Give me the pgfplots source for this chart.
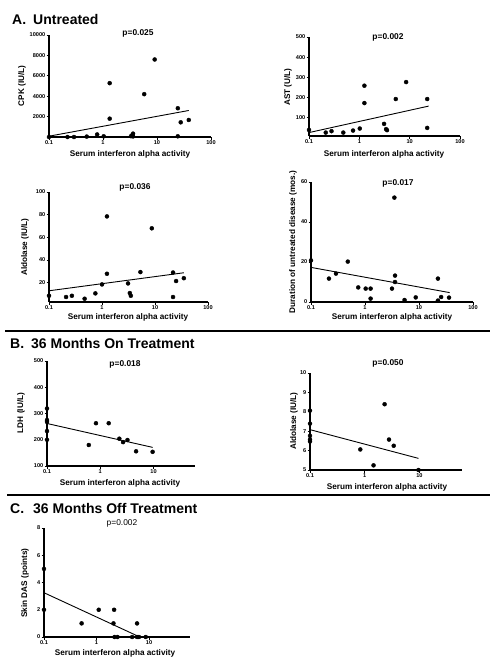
\documentclass[border=0pt]{standalone}
\usepackage{pgfplots}
\pgfplotsset{compat=1.18}
\usepackage{fontspec}
\setmainfont{Liberation Sans}
\pgfplotsset{
  myaxis/.style={
    scale only axis,
    anchor=south west,
    axis lines*=left,
    axis line style={line width=1.3pt, black},
    tick align=outside,
    major tick length=2.5pt,
    minor tick length=0pt,
    tick style={line width=0.9pt, black},
    clip=false,
    scaled y ticks=false,
    ticklabel style={font=\bfseries\fontsize{5.6}{6}\selectfont, inner sep=1pt},
  },
  mydecA/.style={xmin=0.1, xmax=100, xtick={0.1,1,10,100}, xticklabels={0.1,1,10,100}},
  mydecB/.style={xmin=0.1, xmax=60, xtick={0.1,1,10}, xticklabels={0.1,1,10}},
  mydots/.style={only marks, mark=*, mark size=2pt, black},
  myreg/.style={black, line width=0.9pt, no marks},
}
\tikzset{
  xl/.style={font=\bfseries\fontsize{8.2}{9}\selectfont, inner sep=0pt},
  yl/.style={font=\bfseries\fontsize{8.2}{9}\selectfont, inner sep=0pt, rotate=90},
  pv/.style={font=\bfseries\fontsize{8.4}{9}\selectfont, inner sep=0pt},
  tt/.style={font=\bfseries\fontsize{14}{16}\selectfont, inner sep=0pt, anchor=base west},
}
\begin{document}
\begin{tikzpicture}[x=1pt,y=-1pt]
\path[use as bounding box] (0,0) rectangle (499,665);

% ---------- Titles and separators ----------
\node[tt] at (12,24) {A.};
\node[tt] at (33,24) {Untreated};
\draw[line width=2.7pt] (5,331) -- (490,331);
\node[tt] at (10,348) {B.};
\node[tt] at (31,348) {36 Months On Treatment};
\draw[line width=2.7pt] (7,495) -- (490,495);
\node[tt] at (10,513) {C.};
\node[tt] at (33,513) {36 Months Off Treatment};

% ---------- A1 CPK ----------
\begin{semilogxaxis}[myaxis, mydecA, at={(49pt,-137pt)}, width=162pt, height=102pt,
  ymin=0, ymax=10000, ytick={2000,4000,6000,8000,10000},
  yticklabels={2000,4000,6000,8000,10000}]
\addplot[mydots] coordinates {
(0.1,0) (0.22,0) (0.29,0) (0.5,40) (0.78,250) (1.03,70) (1.33,1800) (1.33,5280)
(3.3,80) (3.5,200) (3.6,330) (3.6,60) (5.8,4200) (9.06,7600) (24.3,2820) (24.3,70)
(27.5,1440) (38.8,1670)};
\addplot[myreg] coordinates {(0.1,80) (38.8,2600)};
\end{semilogxaxis}
\node[pv] at (138,33) {p=0.025};
\node[yl] at (22,86) {CPK (IU/L)};
\node[xl] at (130,154) {Serum interferon alpha activity};

% ---------- A2 AST ----------
\begin{semilogxaxis}[myaxis, mydecA, at={(309pt,-136pt)}, width=151pt, height=99pt,
  ymin=10, ymax=500, ytick={100,200,300,400,500},
  yticklabels={100,200,300,400,500}]
\addplot[mydots] coordinates {
(0.1,40) (0.215,27) (0.28,34) (0.48,27) (0.75,37) (1.02,47) (1.26,259) (1.26,173)
(3.1,70) (3.4,44) (3.55,39) (5.3,193) (8.5,277) (22.3,193) (22.3,50)};
\addplot[myreg] coordinates {(0.1,27) (23.8,158)};
\end{semilogxaxis}
\node[pv] at (388,37) {p=0.002};
\node[yl] at (288,87) {AST (U/L)};
\node[xl] at (384,154) {Serum interferon alpha activity};

% ---------- A3 Aldolase ----------
\begin{semilogxaxis}[myaxis, mydecA, at={(49pt,-302pt)}, width=159pt, height=110pt,
  ymin=3, ymax=100, ytick={20,40,60,80,100},
  yticklabels={20,40,60,80,100}]
\addplot[mydots] coordinates {
(0.1,8.5) (0.21,7.4) (0.27,8.5) (0.47,5.9) (0.75,10.6) (1.0,18.5) (1.24,27.9) (1.24,78.5)
(3.1,19.4) (3.35,10.9) (3.5,8.5) (5.3,29.4) (8.7,68) (21.9,29) (21.9,7.4) (25,21.5) (35,24)};
\addplot[myreg] coordinates {(0.1,12.9) (35,28.8)};
\end{semilogxaxis}
\node[pv] at (135,187) {p=0.036};
\node[yl] at (25,247) {Aldolase (IU/L)};
\node[xl] at (128,317) {Serum interferon alpha activity};

% ---------- A4 Duration ----------
\begin{semilogxaxis}[myaxis, mydecA, at={(311pt,-302pt)}, width=162pt, height=120pt,
  ymin=0, ymax=60, ytick={0,20,40,60},
  yticklabels={0,20,40,60}]
\addplot[mydots] coordinates {
(0.1,20.8) (0.215,11.7) (0.29,14.2) (0.48,20.2) (0.75,7.3) (1.03,6.7) (1.27,6.7) (1.27,1.7)
(3.16,6.7) (3.5,52.2) (3.6,13.2) (3.6,10) (5.4,1) (8.7,2.3) (22.4,11.7) (22.4,0.7)
(25.7,2.5) (36,2.2)};
\addplot[myreg] coordinates {(0.1,17.3) (37,4.7)};
\end{semilogxaxis}
\node[pv] at (398,183) {p=0.017};
\node[yl] at (293,242) {Duration of untreated disease (mos.)};
\node[xl] at (392,317) {Serum interferon alpha activity};

% ---------- B1 LDH ----------
\begin{semilogxaxis}[myaxis, mydecB, at={(47pt,-466pt)}, width=148pt, height=105pt,
  ymin=100, ymax=500, ytick={100,200,300,400,500},
  yticklabels={100,200,300,400,500}]
\addplot[mydots] coordinates {
(0.1,319) (0.1,275) (0.1,268) (0.1,233) (0.1,200) (0.61,180) (0.83,263) (1.44,263)
(2.28,204) (2.68,191) (3.24,199) (4.7,156) (9.6,154)};
\addplot[myreg] coordinates {(0.1,262) (9.6,171)};
\end{semilogxaxis}
\node[pv] at (125,364) {p=0.018};
\node[yl] at (21,413) {LDH (IU/L)};
\node[xl] at (120,483) {Serum interferon alpha activity};

% ---------- B2 Aldolase ----------
\begin{semilogxaxis}[myaxis, mydecB, at={(310pt,-470pt)}, width=152pt, height=97pt,
  ymin=5, ymax=10, ytick={5,6,7,8,9,10},
  yticklabels={5,6,7,8,9,10}]
\addplot[mydots] coordinates {
(0.1,8.06) (0.1,7.39) (0.1,6.76) (0.1,6.57) (0.1,6.47) (0.83,6.06) (1.45,5.24) (2.31,8.39)
(2.78,6.57) (3.39,6.25) (9.6,5.0)};
\addplot[myreg] coordinates {(0.1,7.08) (9.6,5.6)};
\end{semilogxaxis}
\node[pv] at (388,363) {p=0.050};
\node[yl] at (294,421) {Aldolase (IU/L)};
\node[xl] at (387,487) {Serum interferon alpha activity};

% ---------- C Skin DAS ----------
\begin{semilogxaxis}[myaxis, mydecB, at={(44pt,-637pt)}, width=146pt, height=109pt,
  ymin=0, ymax=8, ytick={0,2,4,6,8},
  yticklabels={0,2,4,6,8}]
\addplot[mydots] coordinates {
(0.1,5) (0.1,2) (0.52,1) (1.1,2) (2.16,2) (2.1,1) (2.2,0) (2.5,0) (4.75,0)
(5.9,1) (5.9,0) (6.4,0) (8.65,0)};
\addplot[myreg] coordinates {(0.1,3.25) (6.65,0)};
\end{semilogxaxis}
\node[font=\fontsize{8.4}{9}\selectfont, inner sep=0pt] at (122,523) {p=0.002};
\node[yl] at (25,583) {Skin DAS (points)};
\node[xl] at (115,653) {Serum interferon alpha activity};
\end{tikzpicture}
\end{document}
